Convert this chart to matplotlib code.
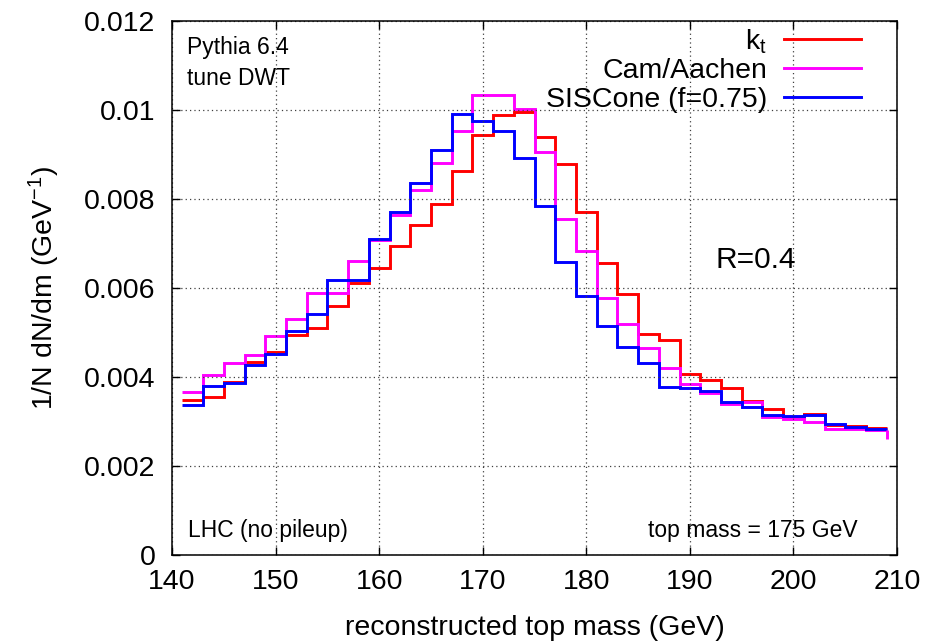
import numpy as np
import matplotlib
matplotlib.use("Agg")
import matplotlib.pyplot as plt

# ---- data ----
bin_edges = np.arange(141, 211, 2)  # 141 ... 209 GeV, 2 GeV bins

kt = [0.00348, 0.00355, 0.00388, 0.00434, 0.00456, 0.00495, 0.00509, 0.00560,
      0.00611, 0.00645, 0.00694, 0.00741, 0.00788, 0.00863, 0.00943, 0.00988,
      0.00995, 0.00939, 0.00878, 0.00771, 0.00655, 0.00587, 0.00497, 0.00482,
      0.00406, 0.00393, 0.00375, 0.00346, 0.00327, 0.00309, 0.00316, 0.00291,
      0.00290, 0.00285]

cam = [0.00366, 0.00405, 0.00430, 0.00450, 0.00491, 0.00530, 0.00589, 0.00589,
       0.00660, 0.00708, 0.00763, 0.00820, 0.00880, 0.00953, 0.01034, 0.01034,
       0.01003, 0.00906, 0.00755, 0.00682, 0.00578, 0.00518, 0.00465, 0.00419,
       0.00384, 0.00363, 0.00339, 0.00344, 0.00309, 0.00306, 0.00299, 0.00282,
       0.00282, 0.00280]
cam_end = 0.00260

sis = [0.00336, 0.00379, 0.00385, 0.00426, 0.00451, 0.00503, 0.00541, 0.00617,
       0.00617, 0.00709, 0.00771, 0.00836, 0.00911, 0.00990, 0.00975, 0.00952,
       0.00891, 0.00784, 0.00658, 0.00581, 0.00515, 0.00466, 0.00431, 0.00376,
       0.00374, 0.00368, 0.00344, 0.00331, 0.00314, 0.00312, 0.00314, 0.00294,
       0.00288, 0.00282]

labels = ["k$_\\mathrm{t}$", "Cam/Aachen", "SISCone (f=0.75)"]
colors = ["#ff0000", "#ff00ff", "#0000ff"]

xticks = [140, 150, 160, 170, 180, 190, 200, 210]
yticks = [0, 0.002, 0.004, 0.006, 0.008, 0.01, 0.012]
yticklabels = ["0", "0.002", "0.004", "0.006", "0.008", "0.01", "0.012"]

# ---- style ----
plt.rcParams['font.family'] = ['Liberation Sans', 'DejaVu Sans']
plt.rcParams['mathtext.fontset'] = 'custom'
plt.rcParams['mathtext.rm'] = 'Liberation Sans'
plt.rcParams['mathtext.it'] = 'Liberation Sans:italic'
plt.rcParams['mathtext.bf'] = 'Liberation Sans:bold'

fig = plt.figure(figsize=(9.41, 6.43), dpi=100)
ax = fig.add_axes([172/941, 1-554.7/643, 725/941, 533.7/643])

lw = 2.1
for vals, col, lab in zip([kt, cam, sis], colors, labels):
    ax.stairs(vals, bin_edges, baseline=None, color=col, lw=lw, label=lab)
# closing drop of the Cam/Aachen histogram
ax.vlines(bin_edges[-1], cam_end, cam[-1], color=colors[1], lw=lw)

ax.set_xlim(140, 210)
ax.set_ylim(0, 0.012)
ax.set_xticks(xticks)
ax.set_xticklabels([str(t) for t in xticks])
ax.set_yticks(yticks)
ax.set_yticklabels(yticklabels)

ax.grid(True, color='0.25', linestyle=(0, (1, 2.5)), lw=0.9)
ax.tick_params(direction='in', length=6, width=1, top=True, right=True,
               labelsize=20.5, colors='black')
ax.tick_params(axis='x', pad=10)
ax.tick_params(axis='y', pad=12)
for s in ax.spines.values():
    s.set_linewidth(1.1)

ax.set_xlabel("reconstructed top mass (GeV)", fontsize=20.5, labelpad=15)
ax.set_ylabel("1/N dN/dm (GeV$^{-1}$)", fontsize=20.5, labelpad=16)

ax.text(0.021, 0.951, "Pythia 6.4", transform=ax.transAxes, fontsize=16.5,
        ha='left', va='center')
ax.text(0.021, 0.893, "tune DWT", transform=ax.transAxes, fontsize=16.5,
        ha='left', va='center')
ax.text(0.022, 0.046, "LHC (no pileup)", transform=ax.transAxes, fontsize=16.5,
        ha='left', va='center')
ax.text(0.946, 0.046, "top mass = 175 GeV", transform=ax.transAxes, fontsize=16.5,
        ha='right', va='center')
ax.text(0.750, 0.552, "R=0.4", transform=ax.transAxes, fontsize=21.5,
        ha='left', va='center')

leg = ax.legend(loc='upper right', bbox_to_anchor=(0.966, 1.01), frameon=False,
                markerfirst=False, fontsize=20.5, handlelength=2.7,
                handletextpad=0.6, labelspacing=0.1, borderaxespad=0.0)
for t in leg.get_texts():
    t.set_ha('right')

fig.savefig("out.png", dpi=100)
